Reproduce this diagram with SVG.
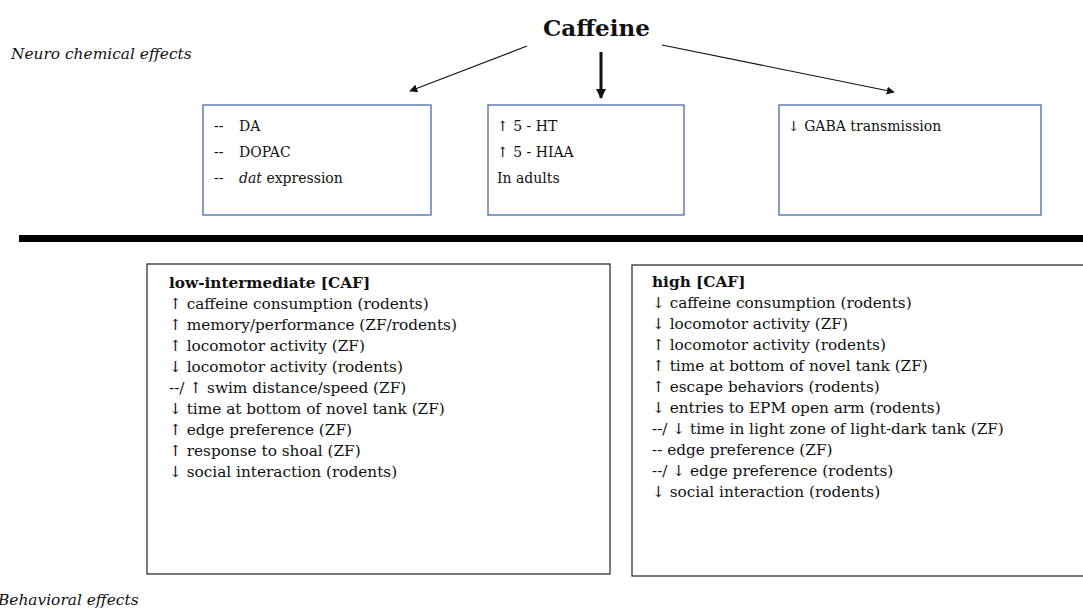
<svg xmlns="http://www.w3.org/2000/svg" width="1083" height="610" viewBox="0 0 1083 610">
<style>
.t{font-family:"DejaVu Serif",serif;fill:#111}
.s{font-size:14px}
.b{font-size:15.3px}
.it{font-style:italic}
.bx{fill:#fff;stroke:#4a6aa8;stroke-width:1.3}
.bb{fill:#fff;stroke:#333;stroke-width:1.3}
.ln{stroke:#111;fill:none}
</style>
<defs>
<marker id="ah" viewBox="0 0 10 10" refX="9" refY="5" markerWidth="8" markerHeight="8" markerUnits="userSpaceOnUse" orient="auto"><path d="M0,0L10,5L0,10z" fill="#111"/></marker>
<marker id="ah2" viewBox="0 0 10 10" refX="9" refY="5" markerWidth="10" markerHeight="10" markerUnits="userSpaceOnUse" orient="auto"><path d="M0,0L10,5L0,10z" fill="#111"/></marker>
</defs>
<g id="labels">
<text class="t it" x="11" y="59" font-size="15.4">Neuro chemical effects</text>
<text class="t it" x="-2" y="605" font-size="15.4">Behavioral effects</text>
</g>
<g id="caffeine"><text class="t" x="543" y="36" font-size="23" font-weight="bold">Caffeine</text></g>
<g id="connectors">
<line class="ln" x1="527" y1="46" x2="410" y2="91" stroke-width="1.2" marker-end="url(#ah)"/>
<line class="ln" x1="601" y1="52" x2="601" y2="98" stroke-width="3" marker-end="url(#ah2)"/>
<line class="ln" x1="662" y1="45" x2="894" y2="92" stroke-width="1.2" marker-end="url(#ah)"/>
</g>
<g id="divider"><rect x="19" y="235" width="1064" height="7" fill="#000"/></g>
<g id="box-da">
<rect class="bx" x="203" y="105" width="228" height="110"/>
<text class="t s" x="214" y="131">--</text><text class="t s" x="239" y="131">DA</text>
<text class="t s" x="214" y="157">--</text><text class="t s" x="239" y="157">DOPAC</text>
<text class="t s" x="214" y="183">--</text><text class="t s" x="239" y="183"><tspan font-style="italic">dat</tspan> expression</text>
</g>
<g id="box-5ht">
<rect class="bx" x="488" y="105" width="196" height="110"/>
<text class="t s" x="497" y="131">↑ 5 - HT</text>
<text class="t s" x="497" y="157">↑ 5 - HIAA</text>
<text class="t s" x="497" y="183">In adults</text>
</g>
<g id="box-gaba">
<rect class="bx" x="779" y="105" width="262" height="110"/>
<text class="t s" x="788" y="131">↓ GABA transmission</text>
</g>
<g id="box-low">
<rect class="bb" x="147" y="264" width="463" height="310"/>
<text class="t b" x="169" y="288" font-weight="bold">low-intermediate [CAF]</text>
<text class="t b" x="169" y="309">↑ caffeine consumption (rodents)</text>
<text class="t b" x="169" y="330">↑ memory/performance (ZF/rodents)</text>
<text class="t b" x="169" y="351">↑ locomotor activity (ZF)</text>
<text class="t b" x="169" y="372">↓ locomotor activity (rodents)</text>
<text class="t b" x="169" y="393">--/ ↑ swim distance/speed (ZF)</text>
<text class="t b" x="169" y="414">↓ time at bottom of novel tank (ZF)</text>
<text class="t b" x="169" y="435">↑ edge preference (ZF)</text>
<text class="t b" x="169" y="456">↑ response to shoal (ZF)</text>
<text class="t b" x="169" y="477">↓ social interaction (rodents)</text>
</g>
<g id="box-high">
<rect class="bb" x="632" y="265" width="460" height="311"/>
<text class="t b" x="652" y="287" font-weight="bold">high [CAF]</text>
<text class="t b" x="652" y="308">↓ caffeine consumption (rodents)</text>
<text class="t b" x="652" y="329">↓ locomotor activity (ZF)</text>
<text class="t b" x="652" y="350">↑ locomotor activity (rodents)</text>
<text class="t b" x="652" y="371">↑ time at bottom of novel tank (ZF)</text>
<text class="t b" x="652" y="392">↑ escape behaviors (rodents)</text>
<text class="t b" x="652" y="413">↓ entries to EPM open arm (rodents)</text>
<text class="t b" x="652" y="434">--/ ↓ time in light zone of light-dark tank (ZF)</text>
<text class="t b" x="652" y="455">-- edge preference (ZF)</text>
<text class="t b" x="652" y="476">--/ ↓ edge preference (rodents)</text>
<text class="t b" x="652" y="497">↓ social interaction (rodents)</text>
</g>
</svg>
